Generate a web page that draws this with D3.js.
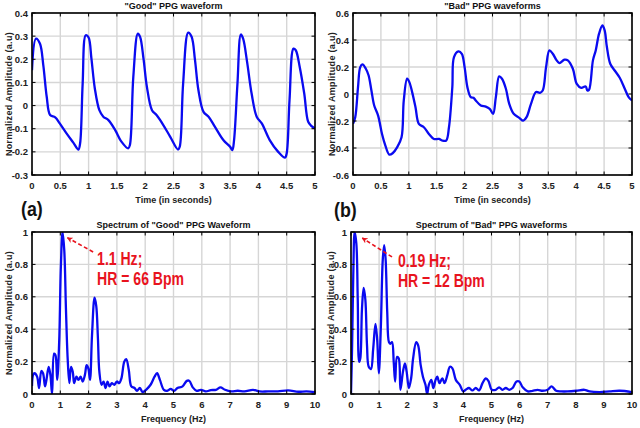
<!DOCTYPE html>
<html>
<head>
<meta charset="utf-8">
<script src="https://cdn.jsdelivr.net/npm/d3@7"></script>
<style>
  body { margin: 0; background: #fff; }
  text { font-family: "Liberation Sans", Arial, sans-serif; }
</style>
</head>
<body>
<svg id="fig" width="640" height="428"></svg>
<script>
// "good" PPG waveform, time in seconds
const goodT = [0, 0.07, 0.14, 0.2, 0.26, 0.32, 0.41, 0.49, 0.61, 0.73, 0.82, 0.85, 0.895, 0.95, 1.0, 1.05, 1.11, 1.19, 1.26, 1.35, 1.47, 1.58, 1.7, 1.73, 1.79, 1.87, 1.91, 1.97, 2.03, 2.12, 2.2, 2.32, 2.44, 2.58, 2.61, 2.67, 2.76, 2.82, 2.88, 2.94, 3.03, 3.12, 3.23, 3.38, 3.5, 3.54, 3.57, 3.63, 3.69, 3.73, 3.8, 3.88, 3.97, 4.06, 4.2, 4.35, 4.47, 4.5, 4.55, 4.62, 4.66, 4.73, 4.81, 4.88, 4.94, 5.0];
const goodV = [0.153, 0.289, 0.268, 0.174, 0.038, -0.041, -0.051, -0.077, -0.12, -0.16, -0.19, -0.163, 0.095, 0.304, 0.294, 0.203, 0.074, -0.02, -0.048, -0.063, -0.106, -0.156, -0.185, -0.17, 0.124, 0.311, 0.297, 0.203, 0.081, -0.02, -0.041, -0.084, -0.134, -0.19, -0.178, 0.095, 0.315, 0.297, 0.196, 0.067, -0.027, -0.048, -0.091, -0.149, -0.178, -0.192, -0.149, 0.095, 0.307, 0.289, 0.189, 0.052, -0.048, -0.077, -0.149, -0.2, -0.225, -0.206, 0.024, 0.246, 0.239, 0.167, 0.052, -0.07, -0.089, -0.099];

// "bad" PPG waveform
const badT = [0, 0.04, 0.09, 0.13, 0.17, 0.23, 0.28, 0.33, 0.38, 0.45, 0.52, 0.58, 0.65, 0.71, 0.79, 0.87, 0.91, 0.97, 1.01, 1.06, 1.12, 1.18, 1.27, 1.36, 1.45, 1.54, 1.6, 1.67, 1.72, 1.78, 1.81, 1.89, 1.95, 2.0, 2.05, 2.11, 2.16, 2.2, 2.29, 2.38, 2.45, 2.51, 2.56, 2.62, 2.67, 2.74, 2.8, 2.88, 2.98, 3.05, 3.11, 3.19, 3.28, 3.35, 3.4, 3.46, 3.52, 3.58, 3.65, 3.7, 3.79, 3.85, 3.94, 4.01, 4.09, 4.17, 4.2, 4.23, 4.3, 4.35, 4.41, 4.47, 4.51, 4.55, 4.61, 4.69, 4.78, 4.87, 4.94, 5.0];
const badV = [-0.221, -0.172, 0.051, 0.199, 0.219, 0.187, 0.137, 0.026, -0.085, -0.16, -0.296, -0.382, -0.449, -0.439, -0.395, -0.32, -0.048, 0.113, 0.088, 0.014, -0.098, -0.221, -0.246, -0.296, -0.333, -0.333, -0.345, -0.345, -0.246, 0.051, 0.273, 0.315, 0.298, 0.199, 0.051, -0.023, -0.028, -0.048, -0.085, -0.093, -0.11, -0.147, -0.023, 0.13, 0.113, 0.039, -0.073, -0.147, -0.177, -0.197, -0.172, -0.073, 0.014, 0.009, 0.026, 0.199, 0.323, 0.298, 0.249, 0.229, 0.254, 0.249, 0.187, 0.075, 0.046, 0.056, 0.026, 0.031, 0.249, 0.323, 0.447, 0.508, 0.471, 0.348, 0.224, 0.174, 0.12, 0.039, -0.023, -0.048];

// spectrum of "good" waveform, frequency in Hz
const goodF = [0, 0.04, 0.09, 0.18, 0.25, 0.33, 0.39, 0.46, 0.51, 0.59, 0.65, 0.71, 0.78, 0.83, 0.89, 0.96, 1.02, 1.08, 1.14, 1.2, 1.26, 1.32, 1.38, 1.44, 1.49, 1.57, 1.64, 1.72, 1.79, 1.87, 1.93, 1.99, 2.05, 2.12, 2.21, 2.27, 2.33, 2.38, 2.46, 2.53, 2.6, 2.67, 2.74, 2.82, 2.91, 3.0, 3.08, 3.16, 3.26, 3.33, 3.42, 3.51, 3.62, 3.71, 3.81, 3.91, 4.03, 4.19, 4.33, 4.42, 4.52, 4.66, 4.78, 4.9, 5.02, 5.14, 5.32, 5.47, 5.56, 5.68, 5.82, 5.97, 6.14, 6.32, 6.5, 6.66, 6.82, 7.04, 7.27, 7.51, 7.81, 8.04, 8.34, 8.69, 9.05, 9.41, 9.7, 10];
const goodS = [0.05, 0.118, 0.128, 0.107, 0.037, 0.142, 0.128, 0.047, 0.087, 0.168, 0.118, 0.0, 0.249, 0.239, 0.087, 0.32, 0.787, 1.0, 0.888, 0.523, 0.219, 0.067, 0.168, 0.138, 0.067, 0.107, 0.087, 0.107, 0.077, 0.118, 0.178, 0.158, 0.087, 0.361, 0.594, 0.544, 0.341, 0.138, 0.057, 0.077, 0.037, 0.077, 0.047, 0.067, 0.057, 0.077, 0.067, 0.097, 0.199, 0.215, 0.148, 0.047, 0.037, 0.02, 0.037, 0.012, 0.026, 0.057, 0.107, 0.128, 0.087, 0.026, 0.02, 0.032, 0.02, 0.037, 0.047, 0.081, 0.081, 0.041, 0.02, 0.026, 0.016, 0.024, 0.026, 0.041, 0.026, 0.016, 0.02, 0.016, 0.026, 0.016, 0.016, 0.016, 0.022, 0.014, 0.016, 0.012];

// spectrum of "bad" waveforms
const badF = [0, 0.04, 0.08, 0.13, 0.19, 0.24, 0.29, 0.33, 0.39, 0.45, 0.51, 0.57, 0.63, 0.71, 0.79, 0.87, 0.93, 0.99, 1.06, 1.13, 1.18, 1.23, 1.29, 1.35, 1.4, 1.46, 1.52, 1.57, 1.64, 1.7, 1.76, 1.85, 1.92, 1.98, 2.06, 2.14, 2.21, 2.32, 2.39, 2.48, 2.56, 2.65, 2.71, 2.77, 2.86, 2.93, 3.01, 3.07, 3.15, 3.25, 3.33, 3.43, 3.52, 3.61, 3.73, 3.87, 3.99, 4.08, 4.2, 4.32, 4.44, 4.56, 4.68, 4.8, 4.89, 5.01, 5.15, 5.27, 5.39, 5.51, 5.63, 5.75, 5.89, 5.99, 6.11, 6.29, 6.46, 6.64, 6.82, 7.0, 7.14, 7.3, 7.48, 7.71, 8.01, 8.31, 8.49, 8.85, 9.2, 9.56, 10];
const badS = [0.0, 0.3, 0.726, 1.0, 0.929, 0.584, 0.199, 0.219, 0.523, 0.655, 0.584, 0.3, 0.168, 0.154, 0.28, 0.432, 0.341, 0.128, 0.402, 0.828, 0.919, 0.838, 0.503, 0.32, 0.31, 0.32, 0.199, 0.077, 0.229, 0.219, 0.026, 0.138, 0.189, 0.138, 0.037, 0.097, 0.219, 0.32, 0.3, 0.178, 0.107, 0.057, 0.0, 0.057, 0.087, 0.037, 0.087, 0.107, 0.067, 0.097, 0.067, 0.118, 0.168, 0.158, 0.087, 0.057, 0.016, 0.026, 0.037, 0.022, 0.037, 0.022, 0.067, 0.097, 0.081, 0.026, 0.026, 0.041, 0.026, 0.037, 0.026, 0.037, 0.077, 0.077, 0.041, 0.016, 0.02, 0.026, 0.02, 0.026, 0.047, 0.02, 0.016, 0.016, 0.02, 0.026, 0.016, 0.012, 0.016, 0.02, 0.012];

// tick values
const timeTicks = [0, 0.5, 1, 1.5, 2, 2.5, 3, 3.5, 4, 4.5, 5];
const freqTicks = [0, 1, 2, 3, 4, 5, 6, 7, 8, 9, 10];
const goodYTicks = [-0.3, -0.2, -0.1, 0, 0.1, 0.2, 0.3, 0.4];
const badYTicks = [-0.6, -0.4, -0.2, 0, 0.2, 0.4, 0.6];
const specYTicks = [0, 0.2, 0.4, 0.6, 0.8, 1];

const svg = d3.select("#fig");

const defs = svg.append("defs");
defs.append("marker")
  .attr("id", "head")
  .attr("viewBox", "0 0 10 10")
  .attr("refX", 9).attr("refY", 5)
  .attr("markerWidth", 6).attr("markerHeight", 6)
  .attr("markerUnits", "userSpaceOnUse")
  .attr("orient", "auto-start-reverse")
  .append("path")
  .attr("d", "M0,0 L10,5 L0,10 L3,5 Z")
  .attr("fill", "#e8141e");

const panels = [
  { id: "p1", left: 32, right: 315, top: 13, bottom: 175, xs: goodT, ys: goodV,
    xdom: [0, 5], ydom: [-0.3, 0.4], xticks: timeTicks, yticks: goodYTicks,
    title: '"Good" PPG waveform', xlabel: "Time (in seconds)", ylabX: 9 },
  { id: "p2", left: 353, right: 632, top: 13, bottom: 175, xs: badT, ys: badV,
    xdom: [0, 5], ydom: [-0.6, 0.6], xticks: timeTicks, yticks: badYTicks,
    title: '"Bad" PPG waveforms', xlabel: "Time (in seconds)", ylabX: 332 },
  { id: "p3", left: 32, right: 315, top: 232, bottom: 394, xs: goodF, ys: goodS,
    xdom: [0, 10], ydom: [0, 1], xticks: freqTicks, yticks: specYTicks,
    title: 'Spectrum of "Good" PPG Waveform', xlabel: "Frequency (Hz)", ylabX: 9,
    note: { lines: ["1.1 Hz;", "HR = 66 Bpm"], at: [2.3, 0.796], from: [2.16, 0.877], to: [1.25, 0.965] } },
  { id: "p4", left: 351, right: 632, top: 232, bottom: 394, xs: badF, ys: badS,
    xdom: [0, 10], ydom: [0, 1], xticks: freqTicks, yticks: specYTicks,
    title: 'Spectrum of "Bad" PPG waveforms', xlabel: "Frequency (Hz)", ylabX: 331,
    note: { lines: ["0.19 Hz;", "HR = 12 Bpm"], at: [1.67, 0.784], from: [1.46, 0.846], to: [0.4, 0.963] } }
];

panels.forEach(function(p) {
  const x = d3.scaleLinear().domain(p.xdom).range([p.left, p.right]);
  const y = d3.scaleLinear().domain(p.ydom).range([p.bottom, p.top]);
  const g = svg.append("g");

  // grid
  g.append("g").selectAll("line").data(p.xticks).join("line")
    .attr("x1", d => x(d)).attr("x2", d => x(d))
    .attr("y1", p.top).attr("y2", p.bottom)
    .attr("stroke", "#d6d6d6").attr("stroke-width", 1.4);
  g.append("g").selectAll("line").data(p.yticks).join("line")
    .attr("y1", d => y(d)).attr("y2", d => y(d))
    .attr("x1", p.left).attr("x2", p.right)
    .attr("stroke", "#d6d6d6").attr("stroke-width", 1.4);

  // the trace
  defs.append("clipPath").attr("id", "clip-" + p.id)
    .append("rect")
    .attr("x", p.left).attr("y", p.top)
    .attr("width", p.right - p.left).attr("height", p.bottom - p.top);

  const line = d3.line()
    .x(d => x(d[0])).y(d => y(d[1]))
    .curve(d3.curveCatmullRom.alpha(0.5));

  g.append("path")
    .datum(d3.zip(p.xs, p.ys))
    .attr("clip-path", "url(#clip-" + p.id + ")")
    .attr("d", line)
    .attr("fill", "none")
    .attr("stroke", "#0a0af0")
    .attr("stroke-width", 2.3)
    .attr("stroke-linejoin", "round");

  // inward ticks on all four sides, matlab style
  const tl = 3.5;
  const tk = g.append("g").attr("stroke", "#000").attr("stroke-width", 1);
  p.xticks.forEach(function(d) {
    tk.append("line").attr("x1", x(d)).attr("x2", x(d)).attr("y1", p.bottom).attr("y2", p.bottom - tl);
    tk.append("line").attr("x1", x(d)).attr("x2", x(d)).attr("y1", p.top).attr("y2", p.top + tl);
  });
  p.yticks.forEach(function(d) {
    tk.append("line").attr("y1", y(d)).attr("y2", y(d)).attr("x1", p.left).attr("x2", p.left + tl);
    tk.append("line").attr("y1", y(d)).attr("y2", y(d)).attr("x1", p.right).attr("x2", p.right - tl);
  });

  // box
  g.append("rect")
    .attr("x", p.left).attr("y", p.top)
    .attr("width", p.right - p.left).attr("height", p.bottom - p.top)
    .attr("fill", "none").attr("stroke", "#000").attr("stroke-width", 1.6);

  // tick labels
  g.append("g").selectAll("text").data(p.xticks).join("text")
    .attr("x", d => x(d)).attr("y", p.bottom + 14)
    .attr("text-anchor", "middle")
    .attr("font-size", 9.5).attr("font-weight", "bold").attr("fill", "#222")
    .text(d => String(d));
  g.append("g").selectAll("text").data(p.yticks).join("text")
    .attr("x", p.left - 4).attr("y", d => y(d) + 3.5)
    .attr("text-anchor", "end")
    .attr("font-size", 9.5).attr("font-weight", "bold").attr("fill", "#222")
    .text(d => String(d));

  // labels
  g.append("text")
    .attr("x", (p.left + p.right) / 2).attr("y", p.top - 4.5)
    .attr("text-anchor", "middle")
    .attr("font-size", 9).attr("font-weight", "bold").attr("fill", "#111")
    .text(p.title);
  g.append("text")
    .attr("x", (p.left + p.right) / 2).attr("y", p.bottom + 28)
    .attr("text-anchor", "middle")
    .attr("font-size", 9).attr("font-weight", "bold").attr("fill", "#222")
    .text(p.xlabel);
  g.append("text")
    .attr("transform", "translate(" + (p.ylabX + 3) + "," + ((p.top + p.bottom) / 2) + ") rotate(-90)")
    .attr("text-anchor", "middle")
    .attr("font-size", 9).attr("font-weight", "bold").attr("fill", "#222")
    .attr("letter-spacing", 0.3)
    .text("Normalized Amplitude (a.u)");

  if (p.note) {
    g.append("line")
      .attr("x1", x(p.note.from[0])).attr("y1", y(p.note.from[1]))
      .attr("x2", x(p.note.to[0])).attr("y2", y(p.note.to[1]))
      .attr("stroke", "#e8141e").attr("stroke-width", 1.6)
      .attr("stroke-dasharray", "4,2.5")
      .attr("marker-end", "url(#head)");
    // condensed look: squeeze the text horizontally
    const t = g.append("text")
      .attr("transform", "translate(" + x(p.note.at[0]) + "," + y(p.note.at[1]) + ") scale(0.78,1)")
      .attr("fill", "#e8141e")
      .attr("font-size", 18)
      .attr("font-weight", "bold");
    p.note.lines.forEach(function(s, i) {
      t.append("tspan").attr("x", 0).attr("dy", i === 0 ? 0 : 20).text(s);
    });
  }
});

// panel letters
svg.append("text").attr("transform", "translate(21,216) scale(0.85,1)")
  .attr("font-size", 21).attr("font-weight", "bold").attr("fill", "#111").text("(a)");
svg.append("text").attr("transform", "translate(334,217) scale(0.85,1)")
  .attr("font-size", 21).attr("font-weight", "bold").attr("fill", "#111").text("(b)");
</script>
</body>
</html>
